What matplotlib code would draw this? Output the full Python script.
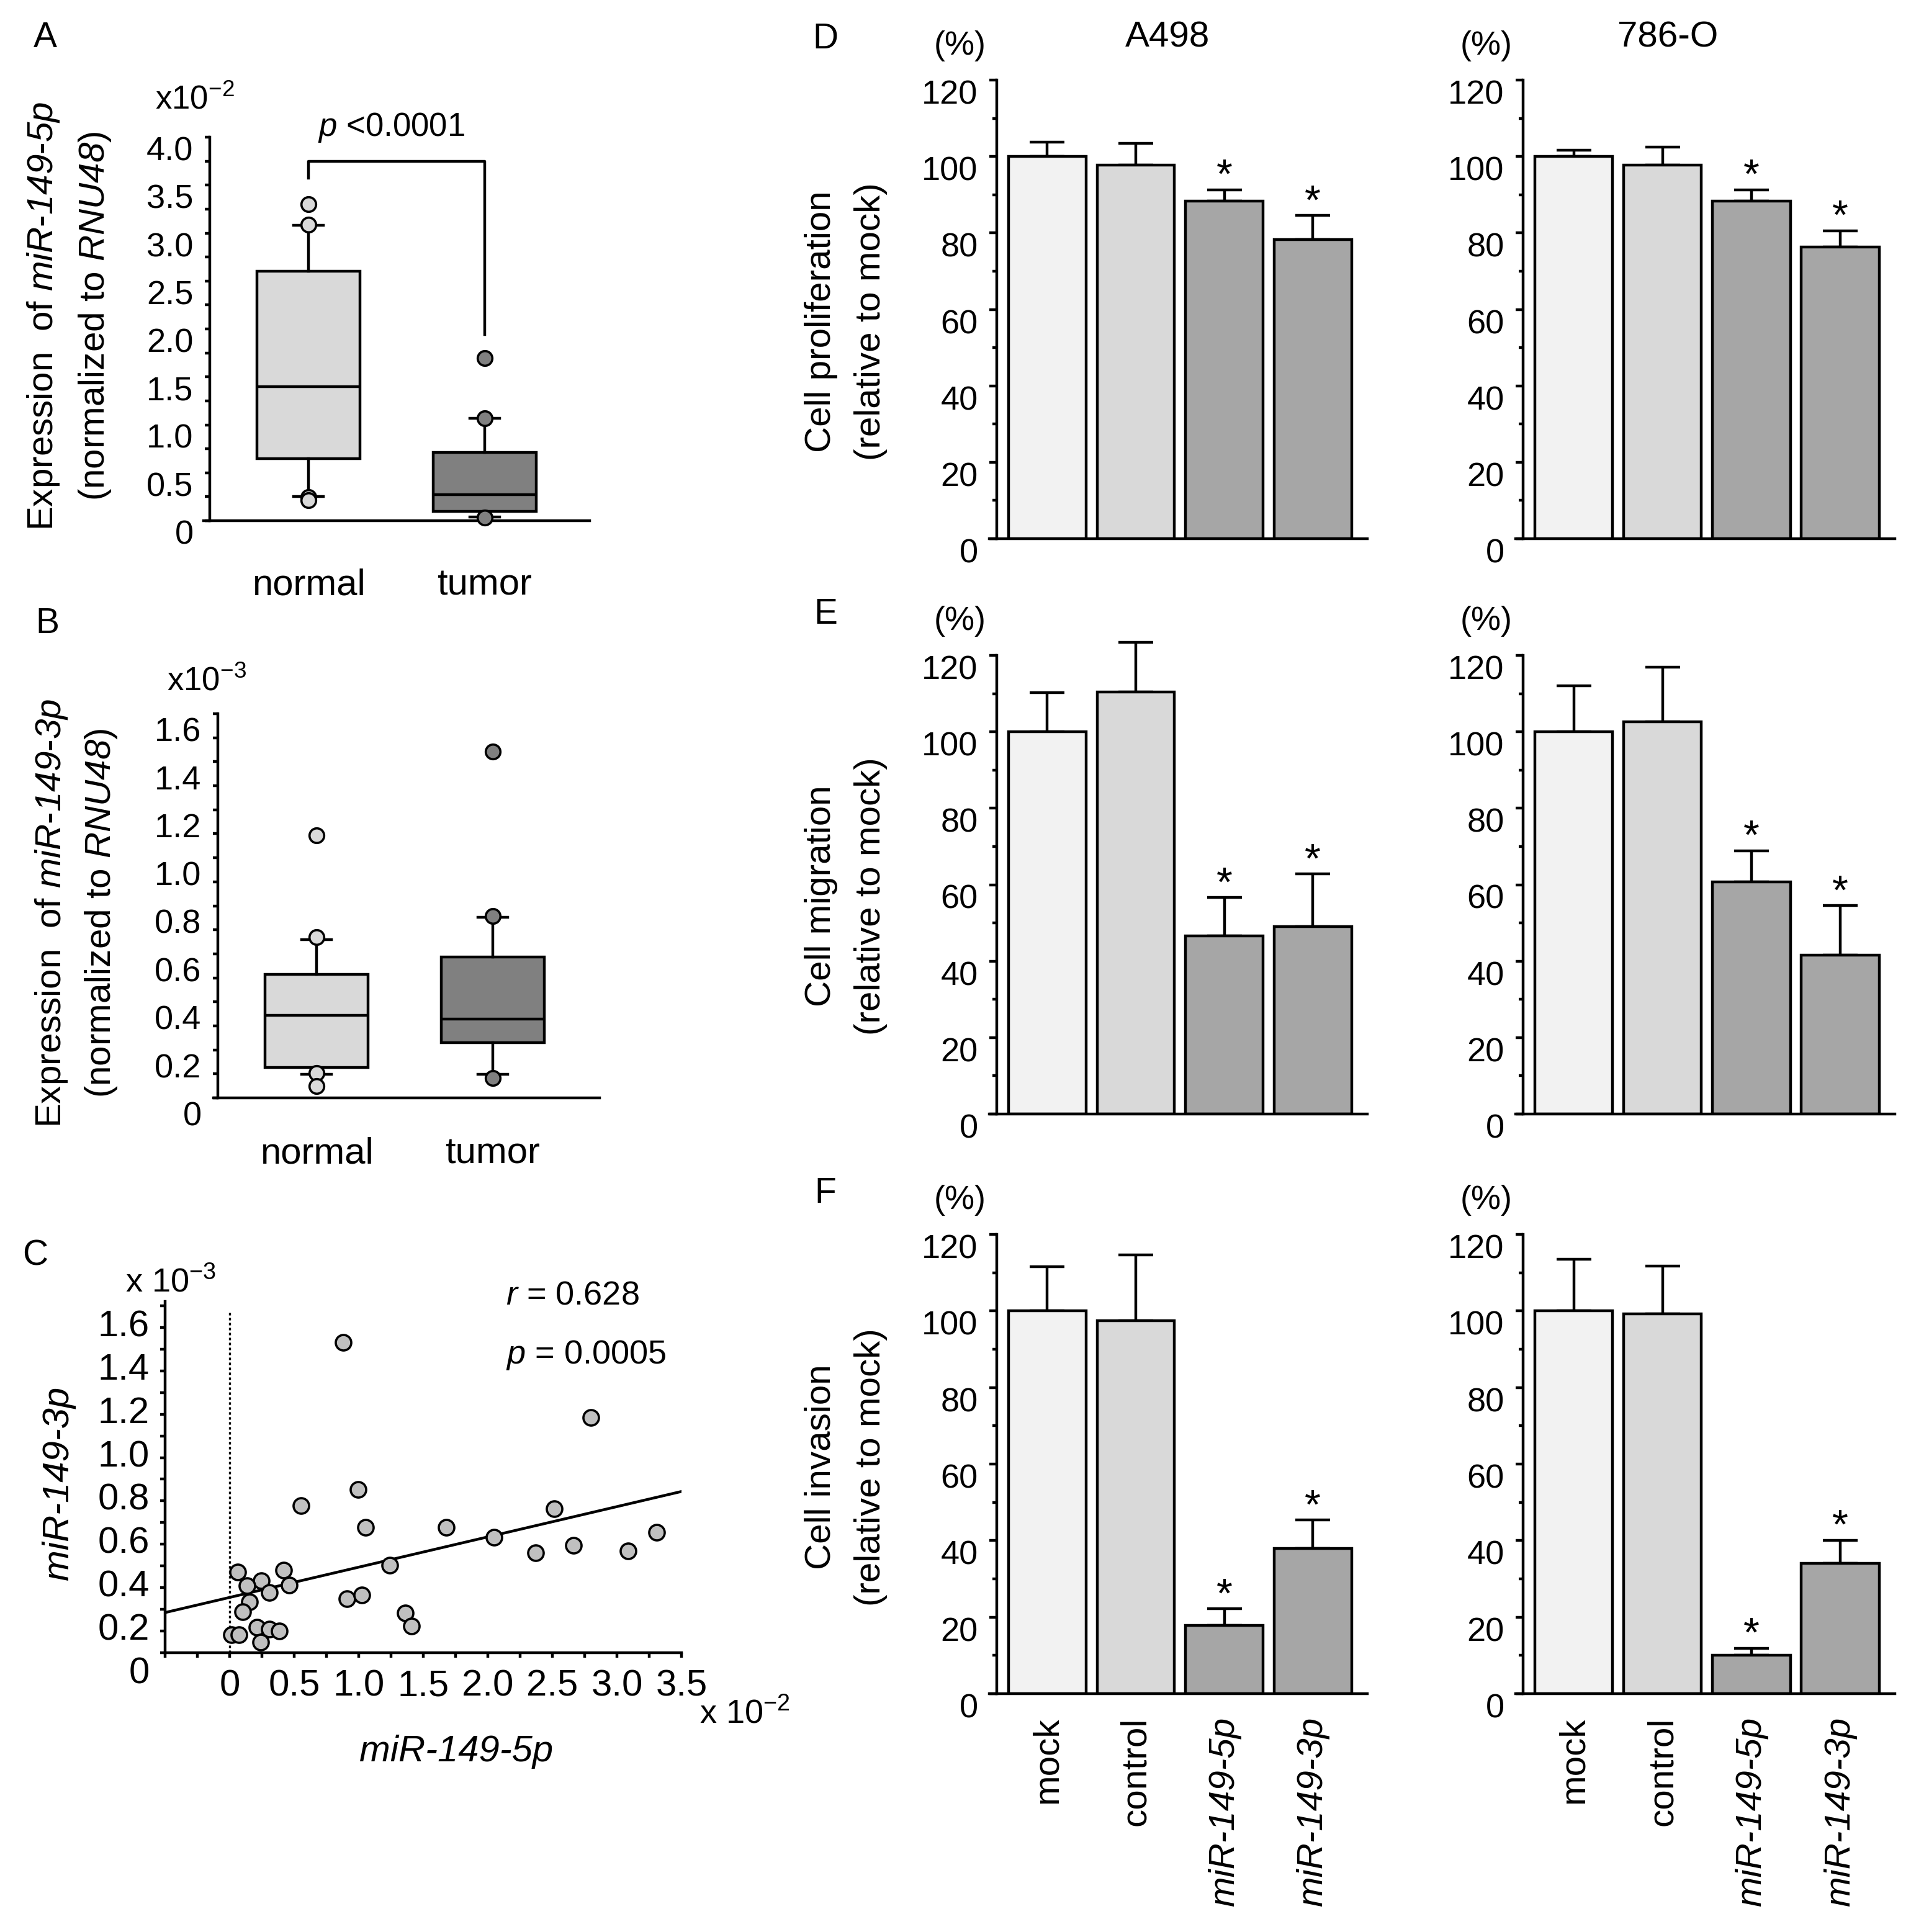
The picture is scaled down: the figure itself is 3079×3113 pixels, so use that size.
import matplotlib
matplotlib.use('Agg')
import matplotlib.pyplot as plt
import matplotlib.transforms as mtransforms
from matplotlib.ticker import MultipleLocator
import numpy as np

plt.rcParams['font.family'] = 'Liberation Sans'
plt.rcParams['mathtext.fontset'] = 'custom'
plt.rcParams['mathtext.rm'] = 'Liberation Sans'
plt.rcParams['mathtext.it'] = 'Liberation Sans:italic'
plt.rcParams['mathtext.bf'] = 'Liberation Sans:bold'
# sf slot used for italic text that includes digits
plt.rcParams['mathtext.sf'] = 'Liberation Sans:italic'

# ---- data ----
box_groups = ['normal', 'tumor']
# panel A: miR-149-5p (x10^-2)
a_med = [1.40, 0.27]
a_q1 = [0.647, 0.098]
a_q3 = [2.60, 0.714]
a_lo = [0.255, 0.04]
a_hi = [3.08, 1.067]
a_fliers = [[3.30, 3.09, 0.245, 0.215], [1.694, 1.07, 0.03]]
# panel B: miR-149-3p (x10^-3)
b_med = [0.344, 0.327]
b_q1 = [0.126, 0.230]
b_q3 = [0.515, 0.586]
b_lo = [0.099, 0.0995]
b_hi = [0.659, 0.7525]
b_fliers = [[1.094, 0.669, 0.104, 0.049], [1.443, 0.758, 0.082]]

# panel C: scatter miR-149-5p (x10^-2) vs miR-149-3p (x10^-3)
c_x = [0.879, 2.80, 0.993, 0.551, 1.055, 1.68, 2.048, 2.515, 3.309, 2.662,
       2.368, 3.085, 1.239, 0.0625, 0.419, 0.246, 0.136, 0.46, 0.309, 0.154,
       0.099, 0.908, 1.026, 1.36, 1.408, 0.21, 0.309, 0.386, 0.015, 0.074, 0.239]
c_y = [1.431, 1.085, 0.753, 0.679, 0.578, 0.578, 0.532, 0.664, 0.555, 0.496,
       0.462, 0.470, 0.403, 0.372, 0.380, 0.333, 0.310, 0.313, 0.279, 0.236,
       0.189, 0.248, 0.267, 0.183, 0.124, 0.116, 0.109, 0.101, 0.082, 0.082, 0.050]
fit_slope = 0.1396
fit_intercept = 0.255

# panels D-F
groups = ['mock', 'control', 'miR-149-5p', 'miR-149-3p']
bar_colors = ['#f2f2f2', '#d9d9d9', '#a6a6a6', '#a6a6a6']
prolif_a498 = [100, 97.8, 88.3, 78.2]
prolif_a498_err = [3.8, 5.6, 3.0, 6.4]
prolif_786o = [100, 97.8, 88.3, 76.3]
prolif_786o_err = [1.6, 4.6, 3.0, 4.3]
migr_a498 = [100, 110.5, 46.6, 49.1]
migr_a498_err = [10.2, 12.9, 10.0, 13.7]
migr_786o = [100, 102.7, 60.8, 41.5]
migr_786o_err = [12.1, 14.2, 8.1, 13.0]
inv_a498 = [100, 97.4, 17.8, 37.9]
inv_a498_err = [11.5, 17.3, 4.4, 7.5]
inv_786o = [100, 99.2, 10.0, 34.1]
inv_786o_err = [13.5, 12.5, 1.9, 6.0]
signif = [False, False, True, True]

W, H = 3079, 3113
fig = plt.figure(figsize=(W / 100, H / 100), dpi=100)
LW = 3.2
TICK_FS = 39


def add_ax(l, t, r, b):
    return fig.add_axes([l / W, 1 - b / H, (r - l) / W, (b - t) / H])


def ftext(x, y, s, **kw):
    fig.text(x / W, 1 - y / H, s, **kw)


def base_style(ax, spine_x):
    for s in ['top', 'right']:
        ax.spines[s].set_visible(False)
    ax.spines['left'].set_position(('data', spine_x))
    ax.spines['left'].set_linewidth(LW)
    ax.spines['bottom'].set_linewidth(LW)
    ax.patch.set_alpha(0)


def shift_ylabels(ax, dy):
    off = mtransforms.ScaledTranslation(0, -dy / 100, fig.dpi_scale_trans)
    for t in ax.get_yticklabels():
        t.set_transform(t.get_transform() + off)


def fmt(v):
    return '0' if v == 0 else f'{v:.1f}'


def box_panel(ax, med, q1, q3, lo, hi, fliers, ymax, step, minor, xlim, spine_x):
    stats = []
    for i in range(2):
        stats.append(dict(med=med[i], q1=q1[i], q3=q3[i], whislo=lo[i],
                          whishi=hi[i], fliers=fliers[i]))
    bp = ax.bxp(stats, positions=[1, 2], widths=0.585, patch_artist=True,
                boxprops=dict(lw=LW), medianprops=dict(color='k', lw=LW),
                whiskerprops=dict(lw=LW), capprops=dict(lw=LW), capwidths=0.17,
                flierprops=dict(marker='o', markersize=17, markeredgewidth=2.6,
                                markeredgecolor='k', linestyle='none'))
    cols = ['#d9d9d9', '#808080']
    for patch, fl, c in zip(bp['boxes'], bp['fliers'], cols):
        patch.set_facecolor(c)
        fl.set_markerfacecolor(c)
        fl.set_zorder(5)
        fl.set_clip_on(False)
    base_style(ax, spine_x)
    ax.set_xlim(*xlim)
    ax.set_ylim(0, ymax)
    ticks = np.arange(0, ymax + 1e-9, step)
    ax.set_yticks(ticks, [fmt(t) for t in ticks])
    ax.yaxis.set_minor_locator(MultipleLocator(minor))
    ax.tick_params(axis='y', which='both', direction='out', length=6, width=LW,
                   labelsize=TICK_FS, pad=13)
    ax.set_xticks([1, 2], box_groups)
    ax.tick_params(axis='x', length=0, labelsize=43)


# ---- panel A ----
axA = add_ax(328, 221, 950, 839)
box_panel(axA, a_med, a_q1, a_q3, a_lo, a_hi, a_fliers, 4.0, 0.5, 0.25,
          (0.405, 2.595), 0.44)
axA.tick_params(axis='x', pad=55)
shift_ylabels(axA, 18)
axA.plot([1, 1, 2, 2], [3.57, 3.745, 3.745, 1.94], color='k', lw=LW, clip_on=False)
axA.text(1.47, 4.10, r'$\mathit{p}$ <0.0001', fontsize=38, ha='center', va='center')
ftext(314, 161, r'x10$^{-2}$', fontsize=38, ha='center', va='center')
ftext(70, 509, r'Expression  of $\mathsf{miR}$-$\mathsf{149}$-$\mathsf{5p}$',
      fontsize=42, rotation=90, ha='center', va='center')
ftext(153, 509, r'(normalized to $\mathsf{RNU48}$)',
      fontsize=42, rotation=90, ha='center', va='center')
ftext(73, 61, 'A', fontsize=41, ha='center', va='center')

# ---- panel B ----
axB = add_ax(344, 1150, 966, 1769)
box_panel(axB, b_med, b_q1, b_q3, b_lo, b_hi, b_fliers, 1.6, 0.2, 0.1,
          (0.415, 2.606), 0.44)
axB.tick_params(axis='x', pad=45)
shift_ylabels(axB, 25)
ftext(333, 1098, r'x10$^{-3}$', fontsize=38, ha='center', va='center')
ftext(83, 1471, r'Expression  of $\mathsf{miR}$-$\mathsf{149}$-$\mathsf{3p}$',
      fontsize=42, rotation=90, ha='center', va='center')
ftext(163, 1471, r'(normalized to $\mathsf{RNU48}$)',
      fontsize=42, rotation=90, ha='center', va='center')
ftext(76, 1005, 'B', fontsize=41, ha='center', va='center')

# ---- panel C ----
axC = add_ax(266, 2097, 1098, 2663)
axC.plot(c_x, c_y, 'o', ms=18, mfc='#c0c0c0', mec='k', mew=2.6, zorder=4,
         clip_on=False)
xl = np.array([-0.5, 3.5])
axC.plot(xl, fit_intercept + fit_slope * xl, color='k', lw=LW, zorder=3)
axC.vlines(0, 0, 1.58, colors='k', linestyles=(0, (1.2, 1.2)), lw=2.4)
base_style(axC, -0.5)
axC.set_xlim(-0.5, 3.5)
axC.set_ylim(0, 1.62)
xt = np.arange(0, 3.51, 0.5)
axC.set_xticks(xt, [fmt(t) for t in xt])
axC.xaxis.set_minor_locator(MultipleLocator(0.25))
yt = np.arange(0, 1.61, 0.2)
axC.set_yticks(yt, [fmt(t) for t in yt])
axC.yaxis.set_minor_locator(MultipleLocator(0.1))
axC.tick_params(axis='both', which='both', direction='out', length=6, width=LW,
                labelsize=43)
axC.tick_params(axis='x', pad=13)
axC.tick_params(axis='y', pad=12)
shift_ylabels(axC, 28)
axC.text(0.66, 1.016, r'$\mathit{r}$ = 0.628', transform=axC.transAxes, fontsize=39,
         ha='left', va='center')
axC.text(0.66, 0.848, r'$\mathit{p}$ = 0.0005', transform=axC.transAxes, fontsize=39,
         ha='left', va='center')
ftext(275, 2067, r'x 10$^{-3}$', fontsize=39, ha='center', va='center')
ftext(1200, 2762, r'x 10$^{-2}$', fontsize=39, ha='center', va='center')
ftext(735, 2822, 'miR-149-5p', fontsize=43, style='italic', ha='center', va='center')
ftext(95, 2390, 'miR-149-3p', fontsize=43, style='italic', rotation=90,
      ha='center', va='center')
ftext(57, 2023, 'C', fontsize=41, ha='center', va='center')


# ---- panels D-F ----
def bar_panel(ax, vals, errs, show_xlabels):
    x = np.arange(len(groups))
    ax.bar(x, vals, width=0.875, color=bar_colors, edgecolor='k', lw=LW, zorder=2)
    eb = ax.errorbar(x, vals, yerr=[np.zeros(len(vals)), errs], fmt='none',
                     ecolor='k', elinewidth=LW, capsize=20, capthick=LW, zorder=1)
    for art in eb.lines[1] + eb.lines[2]:
        art.set_clip_on(False)
    for xi, v, e, s in zip(x, vals, errs, signif):
        if s:
            ax.annotate('*', (xi, v + e), xytext=(0, 2), textcoords='offset points',
                        ha='center', va='baseline', fontsize=48)
    base_style(ax, -0.57)
    ax.set_xlim(-0.655, 3.615)
    ax.set_ylim(0, 120)
    yt = np.arange(0, 121, 20)
    ax.set_yticks(yt, [str(int(t)) for t in yt])
    ax.yaxis.set_minor_locator(MultipleLocator(10))
    ax.tick_params(axis='y', which='major', direction='out', length=9, width=LW,
                   labelsize=TICK_FS, pad=13)
    ax.tick_params(axis='y', which='minor', direction='out', length=5, width=LW)
    if show_xlabels:
        ax.set_xticks(x, groups, rotation=90, ha='center', va='top')
        for t in ax.get_xticklabels()[2:]:
            t.set_style('italic')
        ax.tick_params(axis='x', length=0, labelsize=42, pad=27)
    else:
        ax.set_xticks([])
    shift_ylabels(ax, 19)


rows = [
    (129, 868, prolif_a498, prolif_a498_err, prolif_786o, prolif_786o_err,
     'Cell proliferation', 'D', 518),
    (1056, 1795, migr_a498, migr_a498_err, migr_786o, migr_786o_err,
     'Cell migration', 'E', 1444),
    (1989, 2729, inv_a498, inv_a498_err, inv_786o, inv_786o_err,
     'Cell invasion', 'F', 2364),
]
for i, (top, bot, v1, e1, v2, e2, lab, letter, ycen) in enumerate(rows):
    last = i == 2
    axl = add_ax(1594, top, 2203, bot)
    bar_panel(axl, v1, e1, last)
    axr = add_ax(2442, top, 3053, bot)
    bar_panel(axr, v2, e2, last)
    ftext(1547, top - 55, '(%)', fontsize=39, ha='center', va='center')
    ftext(2395, top - 55, '(%)', fontsize=39, ha='center', va='center')
    ftext(1323, ycen, lab, fontsize=42, rotation=90, ha='center', va='center')
    ftext(1403, ycen, '(relative to mock)', fontsize=42, rotation=90,
          ha='center', va='center')
    ftext(1330, top - 66, letter, fontsize=41, ha='center', va='center')

ftext(1881, 61, 'A498', fontsize=42, ha='center', va='center')
ftext(2687, 61, '786-O', fontsize=42, ha='center', va='center')

fig.savefig('out.png', dpi=100, facecolor='white')
